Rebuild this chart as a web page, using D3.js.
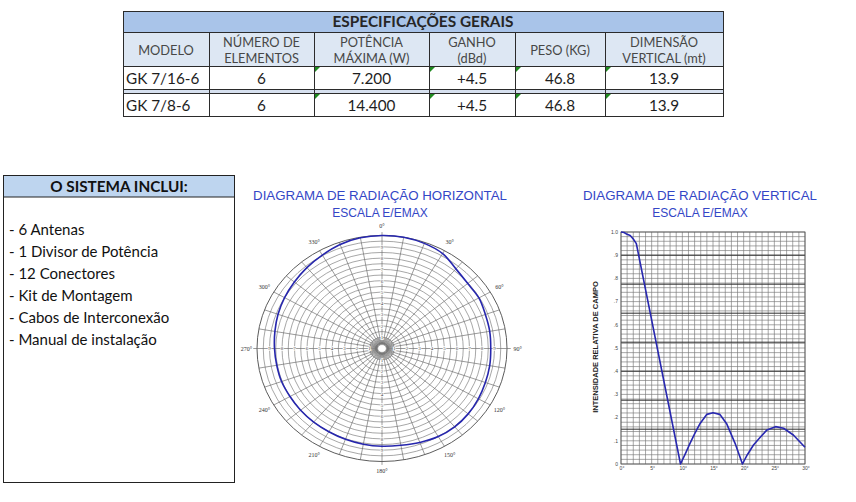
<!DOCTYPE html>
<html>
<head>
<meta charset="utf-8">
<script src="https://cdn.jsdelivr.net/npm/d3@7"></script>
<style>
body { margin: 0; background: #fff; }
svg { display: block; }
</style>
</head>
<body>
<div id="chart"></div>
<script>
// ---- data ----
const tableTitle = 'ESPECIFICAÇÕES GERAIS';
const columnHeaders = [['MODELO'], ['NÚMERO DE', 'ELEMENTOS'], ['POTÊNCIA', 'MÁXIMA (W)'], ['GANHO', '(dBd)'], ['PESO (KG)'], ['DIMENSÃO', 'VERTICAL (mt)']];
const models = ['GK 7/16-6', 'GK 7/8-6'];
const elements = ['6', '6'];
const maxPower = ['7.200', '14.400'];
const gain = ['+4.5', '+4.5'];
const weight = ['46.8', '46.8'];
const verticalSize = ['13.9', '13.9'];

const systemTitle = 'O SISTEMA INCLUI:';
const systemItems = ['- 6 Antenas', '- 1 Divisor de Potência', '- 12 Conectores', '- Kit de Montagem', '- Cabos de Interconexão', '- Manual de instalação'];

// horizontal pattern (azimuth in degrees, E/Emax)
const hAngles = [0, 10, 20, 30, 40, 50, 60, 70, 80, 90, 100, 110, 120, 130, 140, 150, 160, 170,
                 180, 190, 200, 210, 220, 230, 240, 250, 260, 270, 280, 290, 300, 310, 320, 330, 340, 350];
const hValues = [1.0, 1.0, 0.99, 0.97, 0.92, 0.895, 0.895, 0.88, 0.875, 0.87, 0.875, 0.88, 0.89, 0.90, 0.905, 0.90, 0.885, 0.87,
                 0.865, 0.86, 0.855, 0.85, 0.85, 0.85, 0.85, 0.855, 0.855, 0.86, 0.87, 0.885, 0.90, 0.915, 0.935, 0.955, 0.98, 0.995];
const hLabelAngles = [0, 30, 60, 90, 120, 150, 180, 210, 240, 270, 300, 330];
const hRingLabels = ['1', '2', '3', '4', '5', '6', '7', '8', '9'];

// vertical pattern (depression angle in degrees, E/Emax)
const vAngles = [0, 0.5, 1, 1.5, 2, 2.5, 9.7, 10.5, 11.25, 12, 12.9, 14, 15, 16.1, 17.2, 18.6, 19.8, 20.6, 21.6, 22.7, 23.8, 25.2, 26.5, 28.1, 30];
const vValues = [1.0, 0.998, 0.99, 0.985, 0.97, 0.95, 0, 0.045, 0.089, 0.13, 0.175, 0.214, 0.221, 0.214, 0.175, 0.089, 0, 0.04, 0.082, 0.115, 0.147, 0.161, 0.154, 0.125, 0.072];
const vXTicks = [0, 5, 10, 15, 20, 25, 30];
const vYTicks = [0, 0.1, 0.2, 0.3, 0.4, 0.5, 0.6, 0.7, 0.8, 0.9, 1.0];
const vYTickLabels = ['0', '.1', '.2', '.3', '.4', '.5', '.6', '.7', '.8', '.9', '1.0'];
const vMajorGrid = [0.15, 0.275, 0.4, 0.525, 0.65, 0.775, 0.9];

const svg = d3.select('#chart').append('svg')
  .attr('width', 856)
  .attr('height', 502);

// ---- table ----
const COLS = [123, 209, 314, 429, 515, 605, 723];
const T_TOP = 11, T_HEAD = 32, T_R1 = 66, T_SEP = 89, T_R2 = 93, T_BOT = 116;
const table = svg.append('g');

table.append('rect').attr('x', COLS[0]).attr('y', T_TOP).attr('width', COLS[6] - COLS[0]).attr('height', T_HEAD - T_TOP).attr('fill', '#a9c4e9');
table.append('rect').attr('x', COLS[0]).attr('y', T_HEAD).attr('width', COLS[6] - COLS[0]).attr('height', T_R1 - T_HEAD).attr('fill', '#dde7f3');
table.append('rect').attr('x', COLS[0]).attr('y', T_SEP).attr('width', COLS[6] - COLS[0]).attr('height', T_R2 - T_SEP).attr('fill', '#d6e0ef');

table.append('text')
  .attr('x', (COLS[0] + COLS[6]) / 2).attr('y', 27)
  .attr('text-anchor', 'middle')
  .attr('font-family', 'Lato')
  .attr('font-weight', 'bold')
  .attr('font-size', '15.4px')
  .attr('fill', '#262626')
  .text(tableTitle);

columnHeaders.forEach((lines, i) => {
  const cx = (COLS[i] + COLS[i + 1]) / 2;
  const t = table.append('text')
    .attr('text-anchor', 'middle')
    .attr('font-family', 'Lato')
    .attr('font-size', '12.8px')
    .attr('fill', '#474747');
  if (lines.length === 1) {
    t.append('tspan').attr('x', cx).attr('y', 55).text(lines[0]);
  } else {
    t.append('tspan').attr('x', cx).attr('y', 46.5).text(lines[0]);
    t.append('tspan').attr('x', cx).attr('y', 63).text(lines[1]);
  }
});

const rowBase = [84, 111];
const rowTop = [T_R1, T_R2];
models.forEach((m, r) => {
  const cells = [elements[r], maxPower[r], gain[r], weight[r], verticalSize[r]];
  table.append('text')
    .attr('x', COLS[0] + 3).attr('y', rowBase[r])
    .attr('font-family', 'Lato').attr('font-size', '15.3px').attr('fill', '#1e1e1e')
    .text(m);
  cells.forEach((c, j) => {
    table.append('text')
      .attr('x', (COLS[j + 1] + COLS[j + 2]) / 2).attr('y', rowBase[r])
      .attr('text-anchor', 'middle')
      .attr('font-family', 'Lato').attr('font-size', '15.3px').attr('fill', '#1e1e1e')
      .text(c);
    if (j > 0) {
      const x0 = COLS[j + 1] + 1, y0 = rowTop[r] + 1;
      table.append('path')
        .attr('d', `M${x0},${y0}L${x0 + 5},${y0}L${x0},${y0 + 5}Z`)
        .attr('fill', '#1f8a1f');
    }
  });
});

// grid lines of the table
[T_TOP, T_HEAD, T_R1, T_SEP, T_R2, T_BOT].forEach(yy => {
  table.append('line').attr('x1', COLS[0]).attr('x2', COLS[6]).attr('y1', yy + 0.5).attr('y2', yy + 0.5)
    .attr('stroke', '#2b2b2b').attr('stroke-width', 1);
});
COLS.forEach((xx, i) => {
  const top = (i === 0 || i === COLS.length - 1) ? T_TOP : T_HEAD;
  table.append('line').attr('x1', xx + 0.5).attr('x2', xx + 0.5).attr('y1', top).attr('y2', T_BOT + 1)
    .attr('stroke', '#2b2b2b').attr('stroke-width', 1);
});

// ---- system box ----
const box = svg.append('g');
box.append('rect').attr('x', 3.5).attr('y', 175.5).attr('width', 231).attr('height', 21.5).attr('fill', '#bed5ef');
box.append('rect').attr('x', 3.5).attr('y', 175.5).attr('width', 231).attr('height', 307)
  .attr('fill', 'none').attr('stroke', '#222').attr('stroke-width', 1);
box.append('line').attr('x1', 3.5).attr('x2', 234.5).attr('y1', 197).attr('y2', 197).attr('stroke', '#222');
box.append('text')
  .attr('x', 119).attr('y', 191.5)
  .attr('text-anchor', 'middle')
  .attr('font-family', 'Lato').attr('font-weight', 'bold').attr('font-size', '15.3px').attr('fill', '#111')
  .text(systemTitle);
box.selectAll('text.item')
  .data(systemItems)
  .join('text')
  .attr('class', 'item')
  .attr('x', 9)
  .attr('y', (d, i) => 235 + i * 22)
  .attr('font-family', 'Lato').attr('font-size', '15px').attr('fill', '#111')
  .text(d => d);

// ---- titles ----
function chartTitle(x, lines) {
  svg.append('text').attr('x', x).attr('y', 200)
    .attr('text-anchor', 'middle').attr('font-family', 'Liberation Sans').attr('font-size', '13.3px').attr('fill', '#3346c6')
    .text(lines[0]);
  svg.append('text').attr('x', x).attr('y', 217)
    .attr('text-anchor', 'middle').attr('font-family', 'Liberation Sans').attr('font-size', '12px').attr('fill', '#3346c6')
    .text(lines[1]);
}
chartTitle(380, ['DIAGRAMA DE RADIAÇÃO HORIZONTAL', 'ESCALA E/EMAX']);
chartTitle(700, ['DIAGRAMA DE RADIAÇÃO VERTICAL', 'ESCALA E/EMAX']);

// ---- horizontal (polar) diagram ----
const PCX = 382, PCY = 348.5, RX = 125, RY = 113;
const rScale = d3.scaleLinear().domain([0, 1]).range([0, RX]);
const polar = svg.append('g')
  .attr('transform', `translate(${PCX},${PCY}) scale(1,${RY / RX})`);

polar.selectAll('circle.ring')
  .data(rScale.ticks(20).filter(d => d > 0))
  .join('circle')
  .attr('class', 'ring')
  .attr('r', d => rScale(d))
  .attr('fill', 'none')
  .attr('stroke', d => d === 1 ? '#4a4a4a' : '#777')
  .attr('stroke-width', d => d === 1 ? 0.9 : 0.65)
  .attr('vector-effect', 'non-scaling-stroke');

const spokeAngles = d3.range(0, 360, 5);
polar.selectAll('line.spoke')
  .data(spokeAngles)
  .join('line')
  .attr('class', 'spoke')
  .each(function (a) {
    const rad = a * Math.PI / 180;
    const r0 = rScale(0.035);
    const r1 = a % 90 === 0 ? rScale(1.03) : (a % 10 === 0 ? rScale(1) : rScale(0.1));
    d3.select(this)
      .attr('x1', r0 * Math.sin(rad)).attr('y1', -r0 * Math.cos(rad))
      .attr('x2', r1 * Math.sin(rad)).attr('y2', -r1 * Math.cos(rad));
  })
  .attr('stroke', '#666')
  .attr('stroke-width', 0.65)
  .attr('vector-effect', 'non-scaling-stroke');

polar.append('circle').attr('r', rScale(0.035)).attr('fill', '#fff')
  .attr('stroke', '#777').attr('stroke-width', 0.6).attr('vector-effect', 'non-scaling-stroke');

const hLine = d3.lineRadial()
  .angle(d => d[0] * Math.PI / 180)
  .radius(d => rScale(d[1]))
  .curve(d3.curveCardinalClosed);
polar.append('path')
  .datum(hAngles.map((a, i) => [a, hValues[i]]))
  .attr('d', hLine)
  .attr('fill', 'none')
  .attr('stroke', '#2626ad')
  .attr('stroke-width', 1.6)
  .attr('vector-effect', 'non-scaling-stroke');

// ring numbers along the main axes
[0, 90, 180, 270].forEach(a => {
  const rad = a * Math.PI / 180;
  hRingLabels.forEach((lab, i) => {
    const v = (i + 1) / 10;
    svg.append('text')
      .attr('x', PCX + rScale(v) * Math.sin(rad))
      .attr('y', PCY - rScale(v) * (RY / RX) * Math.cos(rad) + 1.8)
      .attr('text-anchor', 'middle')
      .attr('font-family', 'Liberation Serif').attr('font-size', '5px').attr('fill', '#444')
      .attr('stroke', '#fff').attr('stroke-width', 1.5).attr('paint-order', 'stroke')
      .text(lab);
  });
});

svg.selectAll('text.angle')
  .data(hLabelAngles)
  .join('text')
  .attr('class', 'angle')
  .attr('x', a => PCX + rScale(1.085) * Math.sin(a * Math.PI / 180))
  .attr('y', a => PCY - rScale(1.085) * (RY / RX) * Math.cos(a * Math.PI / 180) + 2)
  .attr('text-anchor', 'middle')
  .attr('font-family', 'Liberation Serif').attr('font-size', '6px').attr('fill', '#333')
  .text(a => a + '°');

// ---- vertical diagram ----
const xV = d3.scaleLinear().domain([0, 30]).range([621, 805]);
const yV = d3.scaleLinear().domain([0, 1]).range([464, 232]);
const vert = svg.append('g');

vert.selectAll('line.vx')
  .data(xV.ticks(30))
  .join('line')
  .attr('class', 'vx')
  .attr('x1', d => xV(d)).attr('x2', d => xV(d))
  .attr('y1', yV(0)).attr('y2', yV(1))
  .attr('stroke', '#777').attr('stroke-width', 0.65);

vert.selectAll('line.hy')
  .data(yV.ticks(40))
  .join('line')
  .attr('class', 'hy')
  .attr('x1', xV(0)).attr('x2', xV(30))
  .attr('y1', d => yV(d)).attr('y2', d => yV(d))
  .attr('stroke', '#777').attr('stroke-width', 0.65);

vert.selectAll('line.major')
  .data(vMajorGrid)
  .join('line')
  .attr('class', 'major')
  .attr('x1', xV(0)).attr('x2', xV(30))
  .attr('y1', d => yV(d)).attr('y2', d => yV(d))
  .attr('stroke', '#2e2e2e').attr('stroke-width', 1);

vert.append('rect')
  .attr('x', xV(0)).attr('y', yV(1))
  .attr('width', xV(30) - xV(0)).attr('height', yV(0) - yV(1))
  .attr('fill', 'none').attr('stroke', '#555').attr('stroke-width', 0.8);

vert.append('path')
  .datum(vAngles.map((a, i) => [a, vValues[i]]))
  .attr('d', d3.line().x(d => xV(d[0])).y(d => yV(d[1])))
  .attr('fill', 'none')
  .attr('stroke', '#2828b0')
  .attr('stroke-width', 1.6)
  .attr('stroke-linejoin', 'round');

vert.selectAll('text.ytick')
  .data(vYTicks)
  .join('text')
  .attr('class', 'ytick')
  .attr('x', xV(0) - 3)
  .attr('y', d => yV(d) + 1.8)
  .attr('text-anchor', 'end')
  .attr('font-family', 'Liberation Sans').attr('font-size', '5px').attr('fill', '#444')
  .text((d, i) => vYTickLabels[i]);

vert.selectAll('text.xtick')
  .data(vXTicks)
  .join('text')
  .attr('class', 'xtick')
  .attr('x', d => xV(d) + 1)
  .attr('y', yV(0) + 6)
  .attr('text-anchor', 'middle')
  .attr('font-family', 'Liberation Sans').attr('font-size', '5px').attr('fill', '#444')
  .text(d => d + '°');

vert.append('text')
  .attr('transform', 'translate(598,347) rotate(-90)')
  .attr('text-anchor', 'middle')
  .attr('font-family', 'Liberation Sans').attr('font-weight', 'bold').attr('font-size', '7.5px').attr('fill', '#222')
  .text('INTENSIDADE RELATIVA DE CAMPO');
</script>
</body>
</html>
